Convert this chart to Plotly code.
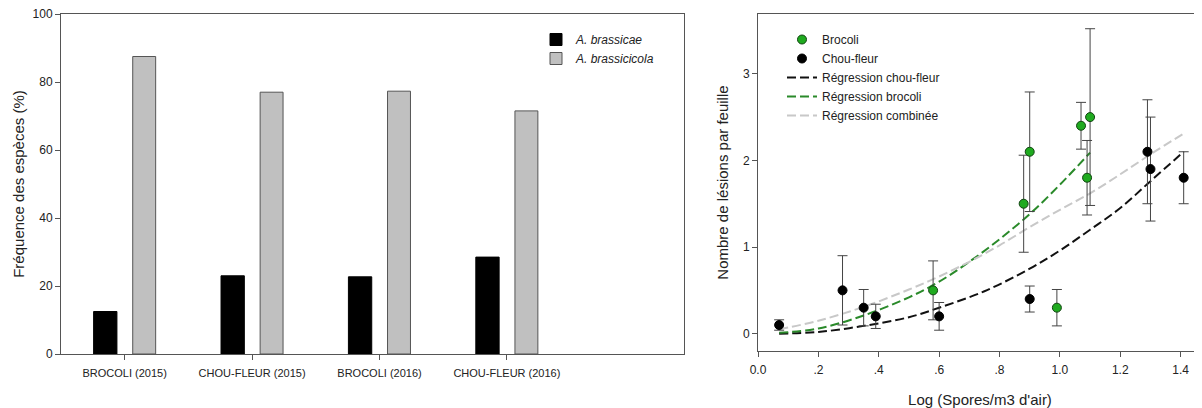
import plotly.graph_objects as go

# ---------------- data ----------------
categories = ["BROCOLI (2015)", "CHOU-FLEUR (2015)", "BROCOLI (2016)", "CHOU-FLEUR (2016)"]
brassicae = [12.5, 23.0, 22.7, 28.5]
brassicicola = [87.5, 77.0, 77.3, 71.5]

broc_x = [0.58, 0.99, 0.88, 0.90, 1.07, 1.10, 1.09]
broc_y = [0.50, 0.30, 1.50, 2.10, 2.40, 2.50, 1.80]
broc_err = [0.34, 0.21, 0.56, 0.69, 0.27, 1.02, 0.43]

chou_x = [0.07, 0.28, 0.35, 0.39, 0.60, 0.90, 1.29, 1.30, 1.41]
chou_y = [0.10, 0.50, 0.30, 0.20, 0.20, 0.40, 2.10, 1.90, 1.80]
chou_err = [0.06, 0.40, 0.21, 0.14, 0.16, 0.15, 0.60, 0.60, 0.30]

reg_chou_x = [0.07, 0.2, 0.35, 0.5, 0.6, 0.75, 0.9, 1.0, 1.1, 1.2, 1.3, 1.41]
reg_chou_y = [0.00, 0.02, 0.09, 0.19, 0.30, 0.49, 0.75, 0.96, 1.20, 1.45, 1.76, 2.10]

reg_broc_x = [0.07, 0.2, 0.35, 0.5, 0.6, 0.7, 0.8, 0.9, 1.0, 1.1]
reg_broc_y = [0.01, 0.06, 0.21, 0.42, 0.60, 0.83, 1.09, 1.38, 1.72, 2.09]

reg_comb_x = [0.07, 0.2, 0.35, 0.5, 0.6, 0.7, 0.8, 0.9, 1.0, 1.1, 1.2, 1.3, 1.41]
reg_comb_y = [0.05, 0.15, 0.31, 0.51, 0.66, 0.83, 1.02, 1.23, 1.43, 1.62, 1.84, 2.07, 2.31]

x2_tickvals = [0.0, 0.2, 0.4, 0.6, 0.8, 1.0, 1.2, 1.4]
x2_ticktext = ["0.0", ".2", ".4", ".6", ".8", "1.0", "1.2", "1.4"]
y2_tickvals = [0, 1, 2, 3]
y1_tickvals = [0, 20, 40, 60, 80, 100]

FONT = "Arial, Liberation Sans, sans-serif"
AX = "#555555"
TXT = "#222222"
GREEN = "#1faa1f"
GREEN_LINE = "#2a8a2a"

fig = go.Figure()

# ---------------- left: bars ----------------
fig.add_trace(go.Bar(
    x=categories, y=brassicae, name="<i>A. brassicae</i>",
    marker=dict(color="#000000", line=dict(color="#000000", width=1)),
    width=0.183, offset=-0.244, xaxis="x", yaxis="y", legend="legend",
))
fig.add_trace(go.Bar(
    x=categories, y=brassicicola, name="<i>A. brassicicola</i>",
    marker=dict(color="#c0c0c0", line=dict(color="#555555", width=1)),
    width=0.18, offset=0.063, xaxis="x", yaxis="y", legend="legend",
))

# ---------------- right: regressions + points ----------------
dash = "9px,4px"
fig.add_trace(go.Scatter(
    x=reg_chou_x, y=reg_chou_y, mode="lines", name="Régression chou-fleur",
    line=dict(color="#111111", width=2, dash=dash, shape="spline"),
    xaxis="x2", yaxis="y2", legend="legend2", legendrank=3,
))
fig.add_trace(go.Scatter(
    x=reg_broc_x, y=reg_broc_y, mode="lines", name="Régression brocoli",
    line=dict(color=GREEN_LINE, width=2, dash=dash, shape="spline"),
    xaxis="x2", yaxis="y2", legend="legend2", legendrank=4,
))
fig.add_trace(go.Scatter(
    x=reg_comb_x, y=reg_comb_y, mode="lines", name="Régression combinée",
    line=dict(color="#c8c8c8", width=2, dash=dash, shape="spline"),
    xaxis="x2", yaxis="y2", legend="legend2", legendrank=5,
))
fig.add_trace(go.Scatter(
    x=broc_x, y=broc_y, mode="markers", name="Brocoli",
    marker=dict(color=GREEN, size=9, line=dict(color="#114411", width=1)),
    error_y=dict(type="data", array=broc_err, color="#444444", thickness=1, width=5),
    xaxis="x2", yaxis="y2", legend="legend2", legendrank=1,
))
fig.add_trace(go.Scatter(
    x=chou_x, y=chou_y, mode="markers", name="Chou-fleur",
    marker=dict(color="#000000", size=9, line=dict(color="#000000", width=1)),
    error_y=dict(type="data", array=chou_err, color="#444444", thickness=1, width=5),
    xaxis="x2", yaxis="y2", legend="legend2", legendrank=2,
))

# The page body adds an 8px margin, so the figure is laid out in page
# coordinates shifted by 8px.
OFF = 8
W, H = 1202 - OFF, 408 - OFF


def px(x):
    return (x - OFF) / W


def py(y):
    return 1 - (y - OFF) / H


common_axis = dict(showline=True, linecolor=AX, linewidth=1, mirror=True,
                   ticks="outside", ticklen=5, tickcolor=AX, showgrid=False,
                   zeroline=False, automargin=False, ticklabeloverflow="allow",
                   tickfont=dict(family=FONT, size=12, color=TXT))

fig.update_layout(
    template="none",
    width=W, height=H,
    margin=dict(l=0, r=0, t=0, b=0, pad=0),
    paper_bgcolor="white", plot_bgcolor="white",
    font=dict(family=FONT, color=TXT),
    barmode="overlay",
    showlegend=True,
    xaxis=dict(common_axis, domain=[px(61), px(684)], type="category",
               range=[-0.5, 4.39], ticklabelstandoff=4,
               tickfont=dict(family=FONT, size=11, color=TXT)),
    yaxis=dict(common_axis, domain=[py(354), py(14)], range=[0, 100],
               tickvals=y1_tickvals,
               title=dict(text="Fréquence des espèces (%)",
                          font=dict(family=FONT, size=15, color=TXT), standoff=4)),
    xaxis2=dict(common_axis, domain=[px(758), 1.0], anchor="y2", range=[0, 1.476 - OFF / 301 * 0.2],
                tickvals=x2_tickvals, ticktext=x2_ticktext, ticklabelstandoff=3,
                title=dict(text="Log (Spores/m3 d'air)",
                           font=dict(family=FONT, size=15, color=TXT), standoff=20)),
    yaxis2=dict(common_axis, domain=[py(351), py(14)], anchor="x2", range=[-0.2, 3.69],
                tickvals=y2_tickvals,
                title=dict(text="Nombre de lésions par feuille",
                           font=dict(family=FONT, size=15, color=TXT), standoff=10)),
    legend=dict(x=px(536), y=py(25), xanchor="left", yanchor="top",
                bgcolor="rgba(0,0,0,0)", font=dict(family=FONT, size=12, color=TXT)),
    legend2=dict(x=px(782), y=py(25), xanchor="left", yanchor="top",
                 bgcolor="rgba(0,0,0,0)", font=dict(family=FONT, size=12, color=TXT)),
)

fig.write_html("out.html")
